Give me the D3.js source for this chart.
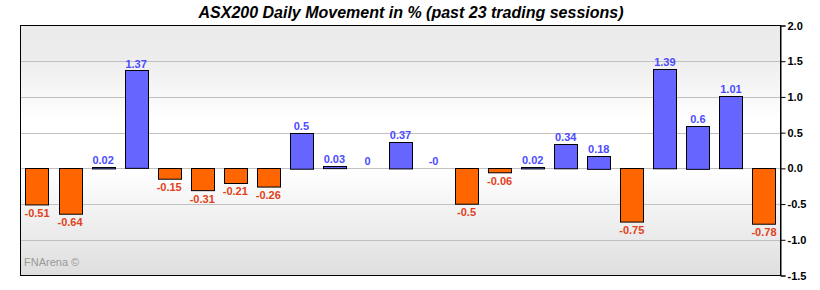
<!DOCTYPE html>
<html>
<head>
  <meta charset="utf-8">
  <title>ASX200 Daily Movement</title>
  <script type="text/javascript" src="https://d3js.org/d3.v7.min.js"></script>
  <style>
    body { margin: 0; background: #fff; }
    text { font-family: "Liberation Sans", Arial, sans-serif; }
  </style>
</head>
<body>
  <div id="container"></div>
  <script type="text/javascript">
    // daily % moves, oldest first
    var sessions = d3.range(1, 24);
    var moves = [-0.51, -0.64, 0.02, 1.37, -0.15, -0.31, -0.21, -0.26, 0.5, 0.03, 0, 0.37,
                 -0, -0.5, -0.06, 0.02, 0.34, 0.18, -0.75, 1.39, 0.6, 1.01, -0.78];
    var yTicks = [2.0, 1.5, 1.0, 0.5, 0.0, -0.5, -1.0, -1.5];
    var title = 'ASX200 Daily Movement in % (past 23 trading sessions)';

    function label(v) {
      return Object.is(v, -0) ? '-0' : String(v);
    }

    function drawChart() {
      var width = 820, height = 290;
      var plot = {left: 20.5, right: 780.5, top: 25.5, bottom: 275.5};

      var svg = d3.select('#container').append('svg')
        .attr('width', width)
        .attr('height', height);

      var defs = svg.append('defs');
      var grad = defs.append('linearGradient').attr('id', 'bg')
        .attr('x1', 0).attr('y1', 0).attr('x2', 0).attr('y2', 1);
      grad.append('stop').attr('offset', '0%').attr('stop-color', '#ebebeb');
      grad.append('stop').attr('offset', '12%').attr('stop-color', '#ececec');
      grad.append('stop').attr('offset', '38%').attr('stop-color', '#ffffff');
      grad.append('stop').attr('offset', '58%').attr('stop-color', '#ffffff');
      grad.append('stop').attr('offset', '100%').attr('stop-color', '#dedede');

      var x = d3.scaleBand()
        .domain(sessions)
        .range([plot.left, plot.right])
        .paddingInner(0.3)
        .paddingOuter(0.15);

      var y = d3.scaleLinear()
        .domain([-1.5, 2])
        .range([plot.bottom, plot.top]);

      svg.append('rect')
        .attr('x', plot.left).attr('y', plot.top)
        .attr('width', plot.right - plot.left)
        .attr('height', plot.bottom - plot.top)
        .attr('fill', 'url(#bg)');

      // gridlines
      svg.append('g').selectAll('line')
        .data(yTicks.filter(t => t > -1.5 && t < 2))
        .enter().append('line')
        .attr('x1', plot.left).attr('x2', plot.right)
        .attr('y1', d => Math.round(y(d)) + 0.5)
        .attr('y2', d => Math.round(y(d)) + 0.5)
        .attr('stroke', '#c0c0c0')
        .attr('stroke-width', 1);

      // bars
      svg.append('g').selectAll('rect')
        .data(moves)
        .enter().append('rect')
        .attr('x', (d, i) => Math.round(x(sessions[i])) + 0.5)
        .attr('y', d => Math.round(y(Math.max(d, 0))) + 0.5)
        .attr('width', Math.round(x.bandwidth()))
        .attr('height', d => Math.max(Math.abs(y(d) - y(0)), 0))
        .attr('fill', d => d >= 0 ? '#6666ff' : '#ff6600')
        .attr('stroke', d => d === 0 ? 'none' : '#000')
        .attr('stroke-width', 1);

      // value labels
      svg.append('g').selectAll('text')
        .data(moves)
        .enter().append('text')
        .attr('x', (d, i) => x(sessions[i]) + x.bandwidth() / 2)
        .attr('y', d => d >= 0 ? y(d) - 3 : y(d) + 12)
        .attr('text-anchor', 'middle')
        .attr('font-size', '11px')
        .attr('font-weight', 'bold')
        .attr('fill', d => d >= 0 ? '#4b4bff' : '#e2401a')
        .text(d => label(d));

      // frame
      svg.append('rect')
        .attr('x', plot.left).attr('y', plot.top)
        .attr('width', plot.right - plot.left)
        .attr('height', plot.bottom - plot.top)
        .attr('fill', 'none')
        .attr('stroke', '#000')
        .attr('stroke-width', 1);

      // right axis
      var axis = d3.axisRight(y)
        .tickValues(yTicks)
        .tickFormat(d => d.toFixed(1))
        .tickSize(5)
        .tickPadding(2);
      var ga = svg.append('g')
        .attr('transform', `translate(${plot.right},0)`)
        .call(axis);
      ga.select('.domain').attr('stroke', '#000');
      ga.selectAll('.tick line').attr('stroke', '#000');
      ga.selectAll('.tick text')
        .attr('font-family', '"Liberation Sans", Arial, sans-serif')
        .attr('font-size', '11px')
        .attr('font-weight', 'bold')
        .attr('fill', '#000');

      svg.append('text')
        .attr('x', 411).attr('y', 18)
        .attr('text-anchor', 'middle')
        .attr('font-size', '16px')
        .attr('font-weight', 'bold')
        .attr('font-style', 'italic')
        .attr('fill', '#000')
        .text(title);

      svg.append('text')
        .attr('x', 24).attr('y', 266)
        .attr('font-size', '11px')
        .attr('fill', '#999')
        .text('FNArena \u00a9');
    }

    drawChart();
  </script>
</body>
</html>
